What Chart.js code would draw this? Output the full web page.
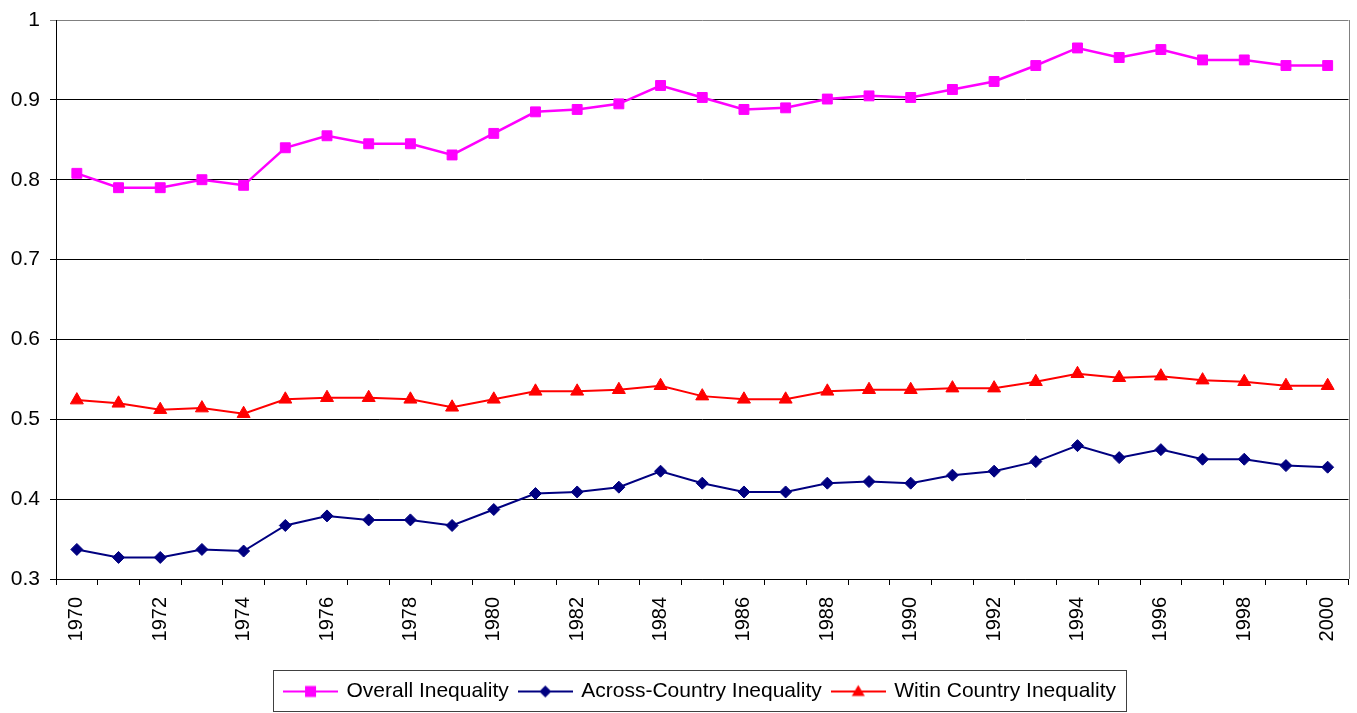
<!DOCTYPE html>
<html>
<head>
<meta charset="utf-8">
<script src="https://cdn.jsdelivr.net/npm/chart.js@4.4.0/dist/chart.umd.min.js"></script>
<style>
html,body{margin:0;padding:0;background:#fff;}
</style>
</head>
<body>
<canvas id="mychart" width="1357" height="713"></canvas>
<script>
var years=["1970","1971","1972","1973","1974","1975","1976","1977","1978","1979","1980",
    "1981","1982","1983","1984","1985","1986","1987","1988","1989","1990",
    "1991","1992","1993","1994","1995","1996","1997","1998","1999","2000"]
var shownYears=["1970","1972","1974","1976","1978","1980","1982","1984","1986","1988","1990",
    "1992","1994","1996","1998","2000"]
var overall=[0.808,0.790,0.790,0.800,0.793,0.840,0.855,0.845,0.845,0.831,0.858,
    0.885,0.888,0.895,0.918,0.903,0.888,0.890,0.901,0.905,0.903,
    0.913,0.923,0.943,0.965,0.953,0.963,0.950,0.950,0.943,0.943]
var across=[0.337,0.327,0.327,0.337,0.335,0.367,0.379,0.374,0.374,0.367,0.387,
    0.407,0.409,0.415,0.435,0.420,0.409,0.409,0.420,0.422,0.420,
    0.430,0.435,0.447,0.467,0.452,0.462,0.450,0.450,0.442,0.440]
var within=[0.524,0.520,0.512,0.514,0.507,0.525,0.527,0.527,0.525,0.515,0.525,
    0.535,0.535,0.537,0.542,0.529,0.525,0.525,0.535,0.537,0.537,
    0.539,0.539,0.547,0.557,0.552,0.554,0.549,0.547,0.542,0.542]
var names=["Overall Inequality","Across-Country Inequality","Witin Country Inequality"]
var colors=["#ff00ff","#000080","#ff0000"]

var font="'Liberation Sans', Arial, sans-serif"

// little line+marker picture for the legend, like excel does
function legendIcon(color,shape){
    var c=document.createElement("canvas")
    c.width=55
    c.height=18
    var ctx=c.getContext("2d")
    ctx.strokeStyle=color
    ctx.fillStyle=color
    ctx.lineWidth=2
    ctx.beginPath()
    ctx.moveTo(0,9)
    ctx.lineTo(55,9)
    ctx.stroke()
    ctx.beginPath()
    if(shape=="rect"){
        ctx.rect(22,3.5,11,11)
    }else if(shape=="rectRot"){
        ctx.moveTo(27.5,3);ctx.lineTo(33.5,9);ctx.lineTo(27.5,15);ctx.lineTo(21.5,9)
    }else{
        ctx.moveTo(27.5,2.5);ctx.lineTo(34,13.5);ctx.lineTo(21,13.5)
    }
    ctx.closePath()
    ctx.fill()
    return c
}
var icons=[legendIcon(colors[0],"rect"),legendIcon(colors[1],"rectRot"),legendIcon(colors[2],"triangle")]

var frame={
    id:"frame",
    afterLayout:function(chart){
        // legend sits a bit right of centre in the original
        chart.legend.left+=25
        chart.legend.right+=25
    },
    afterDraw:function(chart){
        var ctx=chart.ctx
        var a=chart.chartArea
        ctx.save()
        ctx.lineWidth=1
        ctx.strokeStyle="#808080"
        ctx.beginPath()
        ctx.moveTo(Math.round(a.right)+0.5,a.top)
        ctx.lineTo(Math.round(a.right)+0.5,a.bottom)
        ctx.stroke()
        var lg=chart.legend
        var l=100000,r=-100000
        lg.legendHitBoxes.forEach(function(b){
            if(b.left<l)l=b.left
            if(b.left+b.width>r)r=b.left+b.width
        })
        ctx.strokeStyle="#404040"
        ctx.strokeRect(Math.round(l-12)+0.5,Math.round(lg.top)+0.5,Math.round(r-l+22),Math.round(lg.bottom-lg.top)-1)
        ctx.restore()
    }
}

var mychart=document.getElementById("mychart").getContext("2d")
var chart=new Chart(mychart,{
    type:"line",
    data:{
        labels:years,
        datasets:[{
            label:names[0],
            data:overall,
            borderColor:colors[0],
            backgroundColor:colors[0],
            borderWidth:2.5,
            pointStyle:"rect",
            pointRadius:7,
            pointBorderWidth:1
        },
        {
            label:names[1],
            data:across,
            borderColor:colors[1],
            backgroundColor:colors[1],
            borderWidth:2,
            pointStyle:"rectRot",
            pointRadius:6,
            pointBorderWidth:1
        },
        {
            label:names[2],
            data:within,
            borderColor:colors[2],
            backgroundColor:colors[2],
            borderWidth:2,
            pointStyle:"triangle",
            pointRadius:7.5,
            pointBorderWidth:1
        }]
    },
    options:{
        responsive:false,
        animation:false,
        layout:{padding:{top:20,right:6,bottom:1,left:0}},
        plugins:{
            tooltip:{enabled:false},
            legend:{
                position:"bottom",
                labels:{
                    font:{family:font,size:21},
                    color:"#000",
                    usePointStyle:true,
                    pointStyleWidth:51,
                    padding:11,
                    generateLabels:function(c){
                        var items=Chart.defaults.plugins.legend.labels.generateLabels(c)
                        items.forEach(function(it,i){ it.pointStyle=icons[i] })
                        return items
                    }
                }
            }
        },
        scales:{
            x:{
                offset:true,
                grid:{offset:true,drawOnChartArea:false,drawTicks:true,tickLength:6,color:"#000"},
                border:{color:"#000"},
                ticks:{
                    autoSkip:false,
                    minRotation:90,
                    maxRotation:90,
                    padding:12,
                    color:"#000",
                    font:{family:font,size:20},
                    callback:function(v,i){
                        var y=years[i]
                        return shownYears.indexOf(y)>=0 ? y : ""
                    }
                },
                afterFit:function(s){
                    s.height=91
                    s.paddingLeft=0
                    s.paddingRight=0
                }
            },
            y:{
                min:0.3,
                max:1,
                grid:{
                    tickLength:6,
                    color:function(ctx){ return ctx.tick && ctx.tick.value>0.999 ? "#808080" : "#000" }
                },
                border:{color:"#000"},
                ticks:{
                    stepSize:0.1,
                    padding:10,
                    color:"#000",
                    font:{family:font,size:21},
                    callback:function(v){ return String(Math.round(v*10)/10) }
                },
                afterFit:function(s){
                    s.width=56
                    s.paddingTop=0
                    s.paddingBottom=0
                }
            }
        }
    },
    plugins:[frame]
})
</script>
</body>
</html>
